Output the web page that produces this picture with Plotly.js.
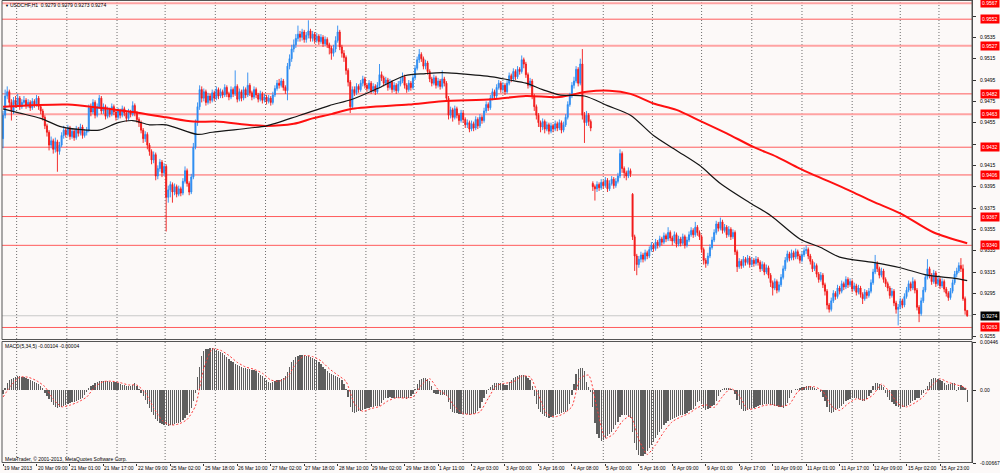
<!DOCTYPE html>
<html><head><meta charset="utf-8">
<script src="https://cdn.plot.ly/plotly-3.0.1.min.js"></script>
<style>html,body{margin:0;padding:0;background:#fcf9f8;}#chart{width:1000px;height:473px;}</style>
</head><body><div id="chart"></div>
<script>
// USDCHF H1 candles, prices in pips (x 1/10000)
const opens = [
9440,9462,9480,9484,9474,9466,9476,9472,9478,9470,
9474,9476,9471,9474,9469,9475,9472,9478,9470,9466,
9460,9452,9446,9434,9438,9430,9437,9428,9434,9443,
9448,9444,9450,9442,9447,9441,9449,9445,9451,9443,
9446,9448,9469,9465,9474,9462,9470,9478,9466,9470,
9461,9467,9463,9470,9465,9460,9466,9462,9468,9464,
9459,9465,9463,9471,9464,9458,9455,9448,9440,9444,
9434,9428,9420,9425,9405,9412,9418,9408,9414,9385,
9392,9397,9390,9395,9388,9393,9389,9400,9410,9398,
9390,9404,9432,9455,9470,9486,9478,9484,9474,9480,
9476,9483,9478,9486,9480,9484,9481,9488,9482,9479,
9486,9482,9489,9477,9484,9478,9486,9481,9490,9483,
9479,9486,9481,9477,9482,9476,9479,9475,9478,9474,
9481,9487,9492,9490,9494,9488,9485,9508,9515,9524,
9528,9534,9538,9535,9540,9533,9537,9541,9534,9538,
9532,9536,9531,9535,9529,9533,9528,9525,9520,9524,
9532,9540,9526,9520,9516,9504,9493,9470,9486,9483,
9489,9486,9492,9496,9490,9487,9492,9485,9489,9484,
9490,9500,9497,9492,9495,9488,9493,9486,9490,9485,
9491,9494,9498,9490,9486,9492,9488,9497,9506,9514,
9519,9515,9508,9511,9503,9496,9492,9497,9490,9494,
9489,9496,9492,9478,9462,9467,9460,9468,9462,9457,
9464,9458,9453,9455,9449,9454,9450,9458,9452,9460,
9457,9466,9472,9469,9478,9484,9480,9488,9492,9486,
9490,9484,9492,9499,9496,9503,9498,9505,9503,9514,
9510,9500,9490,9494,9480,9470,9462,9455,9451,9456,
9449,9453,9447,9452,9449,9454,9450,9455,9448,9453,
9460,9472,9480,9490,9494,9505,9492,9510,9462,9455,
9462,9456,9398,9395,9393,9397,9394,9399,9396,9401,
9393,9398,9402,9396,9400,9405,9426,9412,9408,9405,
9410,9388,9348,9330,9322,9327,9331,9327,9333,9330,
9336,9340,9337,9343,9340,9346,9343,9349,9346,9352,
9347,9344,9350,9341,9346,9342,9348,9340,9345,9350,
9354,9350,9357,9352,9348,9336,9326,9323,9330,9338,
9345,9352,9360,9356,9362,9354,9357,9350,9355,9348,
9352,9334,9320,9325,9321,9327,9324,9328,9322,9326,
9323,9327,9324,9318,9322,9315,9319,9312,9305,9300,
9306,9298,9303,9310,9318,9326,9332,9328,9333,9329,
9334,9330,9326,9331,9335,9336,9330,9325,9318,9321,
9313,9308,9312,9303,9297,9284,9280,9288,9295,9292,
9300,9297,9304,9301,9308,9303,9306,9299,9302,9296,
9300,9294,9290,9296,9293,9297,9305,9315,9323,9318,
9312,9316,9308,9304,9300,9293,9297,9286,9280,9282,
9288,9284,9292,9298,9304,9300,9306,9298,9282,9276,
9288,9298,9310,9318,9312,9306,9314,9304,9308,9302,
9306,9299,9295,9291,9297,9305,9313,9316,9321,9318,
9290,9279];
const highs = [
9466,9486,9489,9486,9477,9479,9480,9482,9480,9477,
9480,9478,9477,9476,9478,9477,9481,9480,9472,9468,
9462,9454,9448,9442,9440,9441,9439,9437,9446,9452,
9450,9453,9452,9450,9449,9452,9451,9454,9453,9449,
9451,9472,9473,9477,9476,9473,9481,9480,9473,9472,
9470,9469,9473,9472,9467,9469,9468,9471,9470,9466,
9468,9467,9475,9473,9466,9460,9457,9450,9447,9446,
9436,9430,9428,9427,9415,9421,9420,9417,9416,9396,
9400,9399,9398,9397,9396,9395,9403,9414,9412,9400,
9407,9436,9458,9474,9490,9489,9487,9486,9483,9482,
9486,9485,9489,9488,9487,9486,9491,9490,9484,9489,
9488,9504,9491,9487,9486,9489,9488,9502,9492,9485,
9489,9488,9483,9485,9484,9482,9481,9481,9480,9484,
9490,9495,9496,9497,9496,9490,9511,9519,9528,9533,
9538,9546,9541,9543,9542,9540,9551,9543,9541,9540,
9539,9538,9538,9537,9536,9535,9530,9527,9528,9536,
9546,9542,9528,9523,9518,9506,9495,9489,9489,9492,
9491,9495,9499,9498,9492,9495,9494,9492,9491,9493,
9510,9503,9499,9498,9497,9496,9495,9493,9492,9494,
9497,9502,9500,9492,9495,9494,9500,9509,9517,9524,
9521,9517,9514,9513,9505,9498,9500,9499,9497,9496,
9504,9498,9494,9480,9470,9469,9471,9470,9464,9467,
9466,9460,9458,9457,9457,9456,9461,9460,9463,9462,
9469,9475,9474,9481,9487,9486,9491,9495,9494,9493,
9492,9495,9502,9501,9506,9505,9508,9507,9518,9516,
9512,9502,9497,9496,9482,9472,9464,9457,9459,9458,
9456,9455,9455,9454,9457,9456,9458,9457,9456,9463,
9475,9483,9493,9498,9508,9507,9515,9524,9465,9466,
9464,9458,9400,9397,9400,9399,9402,9401,9404,9403,
9401,9405,9404,9403,9408,9430,9428,9414,9410,9413,
9412,9389,9350,9332,9330,9334,9333,9336,9335,9339,
9343,9342,9346,9345,9349,9348,9352,9351,9357,9354,
9349,9353,9352,9349,9348,9351,9350,9348,9353,9357,
9356,9362,9359,9354,9350,9338,9328,9333,9341,9348,
9355,9363,9362,9366,9364,9360,9359,9358,9357,9355,
9354,9336,9328,9327,9330,9329,9331,9330,9329,9328,
9330,9329,9326,9325,9324,9322,9321,9314,9307,9309,
9308,9306,9313,9321,9329,9335,9334,9336,9335,9337,
9336,9332,9334,9338,9340,9338,9332,9327,9324,9323,
9315,9315,9314,9305,9299,9286,9291,9298,9297,9303,
9302,9307,9306,9311,9310,9309,9308,9305,9304,9303,
9302,9296,9299,9298,9300,9308,9318,9331,9325,9320,
9319,9318,9310,9306,9302,9300,9299,9288,9285,9291,
9290,9295,9301,9307,9306,9310,9308,9300,9284,9291,
9301,9313,9327,9320,9314,9317,9316,9311,9310,9309,
9308,9301,9297,9300,9308,9316,9319,9324,9328,9322,
9292,9279];
const lows = [
9431,9459,9477,9470,9457,9463,9469,9470,9467,9468,
9472,9468,9469,9466,9467,9469,9470,9467,9463,9457,
9449,9442,9429,9431,9426,9427,9409,9425,9432,9440,
9441,9442,9439,9440,9438,9439,9442,9443,9440,9441,
9443,9446,9461,9463,9459,9460,9468,9463,9463,9458,
9459,9460,9461,9462,9457,9458,9459,9460,9461,9456,
9457,9460,9461,9461,9455,9451,9445,9436,9437,9430,
9424,9416,9417,9401,9402,9409,9404,9405,9353,9380,
9385,9380,9387,9385,9386,9386,9387,9398,9395,9387,
9388,9402,9430,9452,9467,9474,9475,9471,9472,9473,
9474,9475,9476,9477,9478,9478,9479,9479,9476,9477,
9479,9480,9474,9475,9475,9476,9478,9479,9480,9476,
9477,9478,9474,9475,9473,9474,9472,9473,9471,9472,
9479,9485,9487,9488,9485,9482,9476,9505,9512,9521,
9525,9531,9531,9532,9530,9530,9534,9531,9531,9529,
9530,9528,9529,9526,9527,9525,9519,9514,9517,9521,
9530,9523,9516,9512,9500,9489,9464,9468,9480,9481,
9483,9484,9489,9487,9484,9485,9482,9483,9481,9482,
9488,9494,9489,9490,9485,9486,9483,9484,9482,9483,
9489,9492,9487,9483,9484,9485,9486,9495,9504,9511,
9512,9505,9505,9500,9493,9489,9490,9487,9488,9486,
9487,9489,9475,9458,9459,9456,9458,9459,9453,9455,
9455,9450,9450,9446,9447,9447,9448,9449,9450,9454,
9455,9464,9466,9467,9476,9477,9478,9486,9483,9484,
9481,9482,9490,9493,9494,9495,9496,9500,9501,9506,
9497,9487,9488,9477,9466,9458,9451,9446,9448,9445,
9447,9444,9445,9446,9447,9447,9448,9445,9446,9451,
9458,9470,9478,9487,9492,9489,9490,9458,9436,9452,
9452,9447,9391,9382,9390,9391,9392,9393,9394,9390,
9391,9396,9393,9394,9398,9403,9408,9403,9401,9403,
9404,9345,9316,9312,9319,9324,9324,9325,9327,9328,
9334,9334,9335,9337,9338,9340,9341,9343,9344,9344,
9340,9342,9338,9339,9339,9340,9337,9338,9343,9348,
9347,9348,9349,9345,9333,9322,9319,9321,9328,9336,
9343,9350,9353,9354,9351,9352,9347,9348,9345,9346,
9331,9315,9318,9318,9319,9321,9322,9319,9320,9320,
9321,9321,9315,9316,9312,9313,9309,9301,9293,9298,
9295,9296,9301,9308,9316,9324,9325,9326,9326,9327,
9327,9323,9324,9329,9332,9327,9322,9315,9316,9310,
9305,9306,9300,9293,9280,9277,9278,9286,9289,9290,
9294,9295,9298,9299,9300,9301,9296,9297,9293,9294,
9291,9285,9288,9290,9291,9295,9303,9313,9315,9309,
9310,9305,9301,9297,9290,9291,9283,9276,9265,9280,
9281,9282,9290,9296,9297,9298,9295,9279,9268,9274,
9286,9296,9308,9309,9303,9304,9301,9302,9299,9300,
9296,9292,9288,9289,9295,9303,9310,9314,9315,9288,
9275,9273];
const closes = [
9462,9480,9484,9474,9466,9476,9472,9478,9470,9474,
9476,9471,9474,9469,9475,9472,9478,9470,9466,9460,
9452,9446,9434,9438,9430,9437,9428,9434,9443,9448,
9444,9450,9442,9447,9441,9449,9445,9451,9443,9446,
9448,9469,9465,9474,9462,9470,9478,9466,9470,9461,
9467,9463,9470,9465,9460,9466,9462,9468,9464,9459,
9465,9463,9471,9464,9458,9455,9448,9440,9444,9434,
9428,9420,9425,9405,9412,9418,9408,9414,9385,9392,
9397,9390,9395,9388,9393,9389,9400,9410,9398,9390,
9404,9432,9455,9470,9486,9478,9484,9474,9480,9476,
9483,9478,9486,9480,9484,9481,9488,9482,9479,9486,
9482,9489,9477,9484,9478,9486,9481,9490,9483,9479,
9486,9481,9477,9482,9476,9479,9475,9478,9474,9481,
9487,9492,9490,9494,9488,9485,9508,9515,9524,9528,
9534,9538,9535,9540,9533,9537,9541,9534,9538,9532,
9536,9531,9535,9529,9533,9528,9525,9520,9524,9532,
9540,9526,9520,9516,9504,9493,9470,9486,9483,9489,
9486,9492,9496,9490,9487,9492,9485,9489,9484,9490,
9500,9497,9492,9495,9488,9493,9486,9490,9485,9491,
9494,9498,9490,9486,9492,9488,9497,9506,9514,9519,
9515,9508,9511,9503,9496,9492,9497,9490,9494,9489,
9496,9492,9478,9462,9467,9460,9468,9462,9457,9464,
9458,9453,9455,9449,9454,9450,9458,9452,9460,9457,
9466,9472,9469,9478,9484,9480,9488,9492,9486,9490,
9484,9492,9499,9496,9503,9498,9505,9503,9514,9510,
9500,9490,9494,9480,9470,9462,9455,9451,9456,9449,
9453,9447,9452,9449,9454,9450,9455,9448,9453,9460,
9472,9480,9490,9494,9505,9492,9510,9462,9455,9462,
9456,9450,9395,9393,9397,9394,9399,9396,9401,9393,
9398,9402,9396,9400,9405,9426,9412,9408,9405,9410,
9407,9348,9330,9322,9327,9331,9327,9333,9330,9336,
9340,9337,9343,9340,9346,9343,9349,9346,9352,9347,
9344,9350,9341,9346,9342,9348,9340,9345,9350,9354,
9350,9357,9352,9348,9336,9326,9323,9330,9338,9345,
9352,9360,9356,9362,9354,9357,9350,9355,9348,9352,
9334,9320,9325,9321,9327,9324,9328,9322,9326,9323,
9327,9324,9318,9322,9315,9319,9312,9305,9300,9306,
9298,9303,9310,9318,9326,9332,9328,9333,9329,9334,
9330,9326,9331,9335,9336,9330,9325,9318,9321,9313,
9308,9312,9303,9297,9284,9280,9288,9295,9292,9300,
9297,9304,9301,9308,9303,9306,9299,9302,9296,9300,
9294,9290,9296,9293,9297,9305,9315,9323,9318,9312,
9316,9308,9304,9300,9293,9297,9286,9280,9282,9288,
9284,9292,9298,9304,9300,9306,9298,9282,9276,9288,
9298,9310,9318,9312,9306,9314,9304,9308,9302,9306,
9299,9295,9291,9297,9305,9313,9316,9321,9318,9290,
9279,9274];

// Moving averages (bar index, price in pips)
const blackMaBars = [0,8,18,28,40,46,55,62,70,78,93,100,118,126,142,156,167,179,192,202,210,218,234,242,250,258,266,278,289,300,311,322,333,343,357,367,381,391,400,416,429,442,455,461];
const blackMaVals = [9468,9464,9459,9451,9448,9448,9455,9457,9453,9453,9444,9446,9450,9452,9462,9471,9477,9487,9499,9501,9502,9501,9498,9495,9492,9486,9481,9480,9471,9462,9443,9429,9415,9398,9380,9368,9346,9338,9329,9324,9319,9312,9309,9307];
const redMaBars = [0,31,46,62,78,91,102,124,139,148,157,167,194,210,234,250,266,279,290,300,311,322,333,346,359,370,381,404,416,429,445,461];
const redMaVals = [9470,9472,9469,9465,9460,9456,9456,9452,9454,9459,9463,9468,9472,9475,9477,9480,9479,9484,9485,9482,9473,9467,9457,9445,9432,9423,9412,9392,9381,9370,9352,9342];

// MACD(5,34,5) histogram, units of 0.00001
const macdHist = [
-36,20,70,100,110,118,125,130,130,128,124,118,110,100,88,80,72,60,45,20,-20,
-50,-80,-110,-135,-155,-160,
-155,-148,-140,-132,-125,-118,-110,-102,-95,-88,-78,-65,-40,-10,
20,40,55,68,78,85,88,90,90,86,80,78,76,74,70,62,55,50,45,42,40,55,70,45,10,
-20,-52,-90,-120,-160,-195,-230,-260,-279,-295,-308,-318,-322,-324,-320,-315,-308,-302,-296,-290,-270,-250,-228,-203,-160,-100,-20,
120,220,320,365,378,385,388,388,380,370,360,350,342,325,305,288,275,258,245,230,
221,215,210,205,200,195,191,185,175,160,145,132,115,95,75,70,78,85,92,100,
108,118,130,170,220,260,285,305,318,325,328,325,320,314,305,296,288,280,262,240,
220,200,180,162,150,140,132,128,115,95,60,15,
-60,-150,-200,-205,-200,-192,-185,-178,-170,-165,-160,-155,-150,-146,-143,-140,-115,-90,-72,-65,-63,-65,-70,-72,-70,-68,-66,-70,-75,-70,-55,-30,
10,60,95,110,118,115,105,90,40,
-20,-30,-35,-38,-40,-45,-55,-110,-170,-200,-205,-210,-212,-215,-216,-218,-220,-222,-218,-212,-205,-190,-160,-110,-70,-30,
10,35,55,65,70,72,70,62,55,55,75,100,115,125,135,142,145,140,130,115,95,40,
-50,-120,-170,-200,-218,-235,-248,-250,-245,-238,-230,-220,-212,-205,-200,-195,-185,-120,-40,
60,150,195,205,210,180,80,30,-10,
-150,-300,-400,-440,-460,-455,-440,-420,-400,-380,
-350,-320,-290,-240,-225,-225,-230,-240,-250,-380,
-480,-550,-590,-605,-600,-585,-560,-530,-500,-470,
-440,-410,-380,-350,-320,-300,-285,-270,-260,-250,
-242,-236,-230,-222,-212,-203,-190,-180,-170,-140,
-110,-95,-120,-160,-175,-172,-160,-145,-130,-95,
-50,-10,
10,20,25,24,15,5,
-30,-90,-135,-170,-188,-185,-178,-170,-163,-158,-150,-142,-136,-130,-128,-127,-128,-132,-138,-142,-145,-150,-155,-158,-140,-112,-70,-20,
5,12,18,25,30,35,40,42,38,30,20,10,2,-10,
-60,-100,-150,-195,-205,-195,-180,-173,-160,-140,-120,-100,-92,-82,-72,-67,-70,-78,-88,-97,-95,-80,-52,-20,
40,70,72,60,55,30,
-20,-60,-85,-110,-127,-140,-152,-158,-155,-150,-142,-130,-115,-100,-85,-67,-70,-45,-21,
15,40,80,105,115,112,105,100,90,70,55,60,62,68,70,-5,30,55,35,20,-104];
const signalBars = [0,4,8,12,16,20,24,28,32,36,40,44,48,52,56,60,64,68,72,76,80,84,88,92,96,100,104,108,112,116,120,124,128,132,136,140,144,148,152,156,160,164,168,172,176,180,184,188,192,196,200,204,208,212,216,220,224,228,232,236,240,244,248,252,256,260,264,268,272,276,280,284,288,292,296,300,304,308,312,316,320,324,328,332,336,340,344,348,352,356,360,364,368,372,376,380,384,388,392,396,400,404,408,412,416,420,424,428,432,436,440,444,448,452,456,460,461];
const signalVals = [-60,50,123,122,90,35,-80,-150,-135,-105,-60,35,82,85,72,51,50,-21,-159,-274,-318,-308,-267,-142,201,381,370,322,259,216,195,159,97,85,125,248,320,312,273,200,142,83,-120,-192,-166,-147,-96,-67,-69,-60,49,108,9,-43,-148,-212,-219,-197,-72,47,66,80,132,125,-41,-214,-242,-213,-148,114,141,-166,-439,-398,-285,-234,-450,-588,-500,-380,-287,-244,-211,-158,-132,-156,-55,19,-47,-171,-164,-137,-131,-146,-127,-11,30,34,-8,-142,-183,-122,-77,-86,-41,59,-16,-123,-151,-114,-58,44,107,75,51,27,-4];

// Axis labels
const timeTickBars = [0,16,32,48,64,80,96,112,128,144,160,176,192,208,224,240,256,272,288,304,320,336,352,368,384,400,416,432,448];
const timeTickLabels = ['19 Mar 2013','20 Mar 09:00','21 Mar 01:00','21 Mar 17:00','22 Mar 09:00','25 Mar 02:00','25 Mar 18:00','26 Mar 10:00','27 Mar 02:00','27 Mar 18:00','28 Mar 10:00','29 Mar 02:00','29 Mar 18:00','1 Apr 11:00','2 Apr 03:00','3 Apr 00:00','3 Apr 16:00','4 Apr 08:00','5 Apr 00:00','5 Apr 16:00','8 Apr 09:00','9 Apr 01:00','9 Apr 17:00','10 Apr 09:00','11 Apr 01:00','11 Apr 17:00','12 Apr 09:00','15 Apr 02:00','15 Apr 23:00'];
const dayGridBars = [6.5,30.5,54.5,77.5,101.5,125.5,149.5,173.5,196.5,220,239,263,287,310.5,334,358,382,406,429,447.5];
const priceTicks = [9255,9275,9295,9315,9335,9355,9375,9395,9415,9435,9455,9475,9495,9515,9535,9555];
const hiddenPriceTicks = [9275,9435,9555];   // covered by the price tags in the reference
const levelPrices = [9567,9552,9527,9482,9463,9432,9406,9367,9340,9263];
const softLevels = [9567,9527,9463];
const bidPrice = 9274;
const macdTicks = [0.00446, 0, -0.00667];
const macdTickText = ['0.00446','0.00','-0.00667'];

const P = v => v / 10000;
const M = v => v / 100000;
const idx = closes.map((_, i) => i);
const X0 = -0.5, X1 = 463.3, YLO = 0.92522, YHI = 0.9570, MLO = -0.00667, MHI = 0.00446;
const BLUE = '#2a8bf2', RED = '#f21818';

const traces = [
  {type:'candlestick', x:idx, open:opens.map(P), high:highs.map(P), low:lows.map(P), close:closes.map(P),
   xaxis:'x', yaxis:'y', whiskerwidth:0, hoverinfo:'skip',
   increasing:{line:{color:BLUE, width:0.9}, fillcolor:BLUE},
   decreasing:{line:{color:RED, width:0.9}, fillcolor:RED}},
  {type:'scatter', mode:'lines', x:redMaBars, y:redMaVals.map(P), xaxis:'x', yaxis:'y',
   line:{color:'#ff1010', width:2, shape:'spline', smoothing:0.8}, hoverinfo:'skip'},
  {type:'scatter', mode:'lines', x:blackMaBars, y:blackMaVals.map(P), xaxis:'x', yaxis:'y',
   line:{color:'#151515', width:1.2, shape:'spline', smoothing:0.8}, hoverinfo:'skip'},
  {type:'bar', x:idx, y:macdHist.map(M), xaxis:'x', yaxis:'y2', width:0.62,
   marker:{color:'#5e5e5e', line:{width:0}}, hoverinfo:'skip'},
  {type:'scatter', mode:'lines', x:signalBars, y:signalVals.map(M), xaxis:'x', yaxis:'y2',
   line:{color:'#ff3a3a', width:1, dash:'2px,2px', shape:'spline', smoothing:0.6}, hoverinfo:'skip'}
];

const shapes = [];
dayGridBars.forEach(b => {
  shapes.push({type:'line', xref:'x', yref:'y', x0:b, x1:b, y0:YLO, y1:YHI, layer:'below', line:{color:'#4a4a4a', width:0.8, dash:'1px,2px'}});
  shapes.push({type:'line', xref:'x', yref:'y2', x0:b, x1:b, y0:MLO, y1:MHI, layer:'below', line:{color:'#4a4a4a', width:0.8, dash:'1px,2px'}});
});
shapes.push({type:'line', xref:'x', yref:'y', x0:X0, x1:X1, y0:P(bidPrice), y1:P(bidPrice), layer:'below', line:{color:'#c8c8c8', width:1}});
levelPrices.forEach(p => {
  const soft = softLevels.includes(p);
  shapes.push({type:'line', xref:'x', yref:'y', x0:X0, x1:X1, y0:P(p), y1:P(p), layer:'below',
    line:{color: soft ? '#ffa3a3' : '#ff5c5c', width: soft ? 2 : 1}});
});
const py = px => 1 - px / 473;
shapes.push({type:'rect', xref:'paper', yref:'paper', x0:0.002, x1:0.972, y0:py(339.5), y1:py(0.5), line:{color:'#555', width:1}, fillcolor:'rgba(0,0,0,0)', layer:'above'});
shapes.push({type:'rect', xref:'paper', yref:'paper', x0:0.002, x1:0.972, y0:py(462.5), y1:py(341.5), line:{color:'#555', width:1}, fillcolor:'rgba(0,0,0,0)', layer:'above'});

const annotations = [];
// time labels, left-aligned at their bar, under the MACD pane
timeTickBars.forEach((b, k) => {
  annotations.push({xref:'x', yref:'paper', x:b, y:py(467.5), xanchor:'left', yanchor:'middle', xshift:-1, showarrow:false,
    text:timeTickLabels[k], font:{size:5, color:'#000'}});
});
levelPrices.forEach(p => {
  annotations.push({xref:'paper', yref:'y', x:0.980, y:P(p), xanchor:'left', yanchor:'middle', showarrow:false,
    text:P(p).toFixed(4), bgcolor:'#ff0000', borderpad:1, font:{color:'#ffffff', size:5}});
});
annotations.push({xref:'paper', yref:'y', x:0.980, y:P(bidPrice), xanchor:'left', yanchor:'middle', showarrow:false,
  text:P(bidPrice).toFixed(4), bgcolor:'#000000', borderpad:1, font:{color:'#ffffff', size:5}});
annotations.push({xref:'paper', yref:'paper', x:0.003, y:py(5), xanchor:'left', yanchor:'middle', showarrow:false, text:'▼', font:{size:4, color:'#000'}});
annotations.push({xref:'paper', yref:'paper', x:0.008, y:py(5), xanchor:'left', yanchor:'middle', showarrow:false, text:'USDCHF,H1  0.9279 0.9279 0.9273 0.9274', font:{size:5, color:'#000'}});
annotations.push({xref:'paper', yref:'paper', x:0.003, y:py(346), xanchor:'left', yanchor:'middle', showarrow:false, text:'MACD(5,34,5) -0.00104 -0.00004', font:{size:5, color:'#000'}});
annotations.push({xref:'paper', yref:'paper', x:0.003, y:py(459), xanchor:'left', yanchor:'middle', showarrow:false, text:'MetaTrader, © 2001-2013, MetaQuotes Software Corp.', font:{size:5, color:'#000'}});

const layout = {
  width:1000, height:473, margin:{l:0, r:0, t:0, b:0},
  paper_bgcolor:'#fcf9f8', plot_bgcolor:'rgba(0,0,0,0)', showlegend:false,
  font:{family:'"Liberation Sans", Arial, sans-serif', size:5, color:'#000'},
  xaxis:{domain:[0.002, 0.972], range:[X0, X1], anchor:'y2', tickmode:'array', tickvals:timeTickBars,
    ticks:'outside', ticklen:2, tickcolor:'#333', showticklabels:false,
    showgrid:false, zeroline:false, showline:false, rangeslider:{visible:false}},
  yaxis:{domain:[py(339), 1], range:[YLO, YHI], side:'right', anchor:'x', tickmode:'array', tickvals:priceTicks.map(P),
    ticktext:priceTicks.map(v => hiddenPriceTicks.includes(v) ? '' : P(v).toFixed(4)), ticks:'outside', ticklen:3, tickcolor:'#333', ticklabelstandoff:3,
    showline:true, linecolor:'#444', linewidth:1, showgrid:false, zeroline:false, tickfont:{size:5}},
  yaxis2:{domain:[py(463), py(342)], range:[MLO, MHI], side:'right', anchor:'x', tickmode:'array', tickvals:macdTicks, ticktext:macdTickText,
    ticks:'outside', ticklen:3, tickcolor:'#333', ticklabelstandoff:3, showline:true, linecolor:'#444', linewidth:1,
    showgrid:false, zeroline:false, tickfont:{size:5}},
  shapes:shapes, annotations:annotations, bargap:0
};

Plotly.newPlot('chart', traces, layout, {staticPlot:true, displayModeBar:false});
</script>
</body></html>
